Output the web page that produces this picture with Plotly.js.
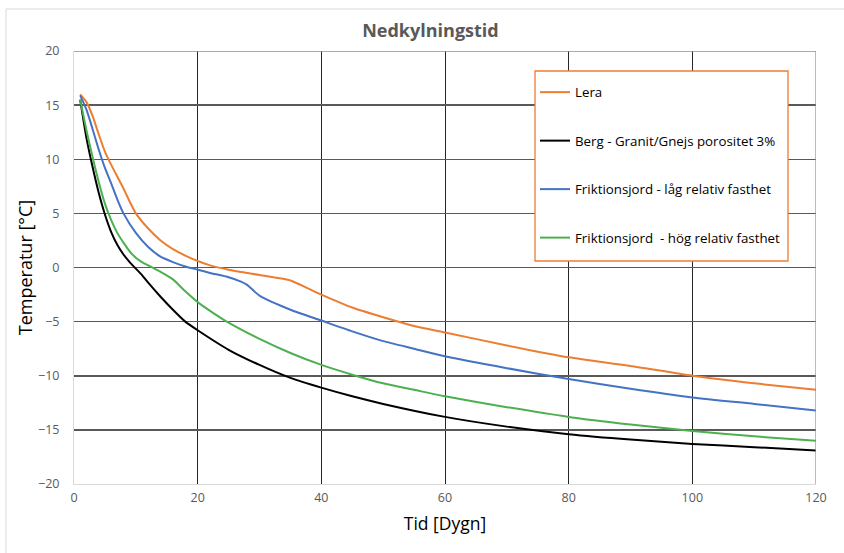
<!DOCTYPE html>
<html>
<head>
<meta charset="utf-8">
<script src="https://cdn.plot.ly/plotly-3.0.1.min.js"></script>
<style>html,body{margin:0;padding:0;background:#fff;}#chart{width:844px;height:553px;}</style>
</head>
<body>
<div id="chart"></div>
<script>
// Lera
const leraT = [1, 2, 3, 4, 5, 6, 7, 8, 9, 10, 12, 14, 16, 18, 20, 22, 25, 30, 35, 37, 40, 45, 50, 55, 60, 70, 80, 90, 100, 110, 120];
const leraV = [16.0, 15.3, 14.0, 12.3, 10.7, 9.5, 8.4, 7.3, 6.1, 5.0, 3.6, 2.5, 1.7, 1.1, 0.6, 0.2, -0.2, -0.7, -1.2, -1.7, -2.5, -3.7, -4.6, -5.4, -6.0, -7.2, -8.3, -9.1, -10.0, -10.7, -11.3];
// Berg - Granit/Gnejs porositet 3%
const bergT = [1, 2, 3, 4, 5, 6, 7, 8, 9, 10, 11, 12, 14, 16, 18, 20, 25, 30, 35, 40, 45, 50, 60, 70, 80, 90, 100, 110, 120];
const bergV = [15.5, 12.0, 9.3, 6.9, 4.9, 3.3, 2.1, 1.2, 0.5, -0.1, -0.7, -1.4, -2.7, -3.9, -5.0, -5.8, -7.6, -9.0, -10.2, -11.1, -11.9, -12.6, -13.8, -14.7, -15.4, -15.9, -16.3, -16.6, -16.9];
// Friktionsjord - låg relativ fasthet
const lagT = [1, 2, 3, 4, 5, 6, 7, 8, 10, 12, 14, 16, 18, 20, 22, 25, 27, 28, 30, 35, 40, 45, 50, 55, 60, 70, 80, 90, 100, 110, 120];
const lagV = [15.9, 14.6, 12.8, 10.9, 9.2, 7.8, 6.3, 5.0, 3.2, 1.9, 1.0, 0.5, 0.1, -0.2, -0.5, -0.9, -1.3, -1.6, -2.6, -3.9, -4.9, -5.9, -6.8, -7.5, -8.2, -9.3, -10.3, -11.2, -12.0, -12.6, -13.2];
// Friktionsjord - hög relativ fasthet
const hogT = [1, 2, 3, 4, 5, 6, 7, 8, 9, 10, 11, 12, 13, 14, 16, 18, 20, 22, 25, 30, 35, 40, 45, 50, 55, 60, 70, 80, 90, 100, 110, 120];
const hogV = [15.5, 12.7, 10.2, 7.9, 5.9, 4.4, 3.2, 2.3, 1.5, 0.9, 0.5, 0.2, -0.1, -0.4, -1.1, -2.2, -3.2, -4.0, -5.1, -6.6, -7.9, -9.0, -9.9, -10.7, -11.3, -11.9, -12.9, -13.8, -14.5, -15.1, -15.6, -16.0];

const names = ["Lera", "Berg - Granit/Gnejs porositet 3%", "Friktionsjord - låg relativ fasthet", "Friktionsjord  - hög relativ fasthet"];
const colors = ["#ED7D31", "#000000", "#4472C4", "#4CB050"];
const xs = [leraT, bergT, lagT, hogT];
const ys = [leraV, bergV, lagV, hogV];

const traces = xs.map((x, i) => ({
  x: x, y: ys[i], type: "scatter", mode: "lines", name: names[i],
  line: {color: colors[i], width: 2, shape: "spline", smoothing: 0.6},
  legendgroup: "g" + i
}));

const L = 74, R = 816, T = 51, B = 484;
const px = v => (v - L) / (R - L);
const py = v => (B - v) / (B - T);

const layout = {
  width: 844, height: 553,
  margin: {l: L, r: 844 - R, t: T, b: 553 - B},
  paper_bgcolor: "#ffffff", plot_bgcolor: "#ffffff",
  font: {family: "Open Sans, sans-serif", color: "#595959"},
  title: {text: "<b>Nedkylningstid</b>", font: {size: 18, color: "#595959", family: "Open Sans, sans-serif"}, x: 0.51, xanchor: "center", y: 0.944, yanchor: "middle"},
  xaxis: {
    range: [0, 120], dtick: 20, tick0: 0,
    showgrid: true, gridcolor: "#262626", gridwidth: 1,
    zeroline: false, showline: true, linecolor: "#d9d9d9", linewidth: 1,
    ticks: "", tickfont: {size: 12.5, color: "#595959"}, ticklabelstandoff: 2,
    title: {text: "Tid [Dygn]", font: {size: 17.5, color: "#000000"}, standoff: 12}
  },
  yaxis: {
    range: [-20, 20], dtick: 5, tick0: 0,
    showgrid: true, gridcolor: "#595959", gridwidth: 1.5,
    zeroline: false, showline: true, linecolor: "#d9d9d9", linewidth: 1,
    ticks: "", tickfont: {size: 12.5, color: "#595959"}, ticklabelstandoff: 11,
    title: {text: "Temperatur [°C]", font: {size: 18, color: "#000000"}, standoff: 0}
  },
  legend: {
    x: px(535), y: py(77), xanchor: "left", yanchor: "top",
    bgcolor: "rgba(0,0,0,0)", borderwidth: 0,
    font: {size: 13.3, color: "#000000"},
    traceorder: "grouped", tracegroupgap: 28.2,
    itemwidth: 30
  },
  shapes: [
    {type: "rect", xref: "paper", yref: "paper", x0: px(535), x1: px(788), y0: py(261), y1: py(71), fillcolor: "#ffffff", line: {color: "#ED7D31", width: 1.3}, layer: "above"},
    {type: "line", xref: "x", yref: "y", x0: 0, x1: 120, y0: 20, y1: 20, line: {color: "#5B9BD5", width: 1.5}},
    {type: "line", xref: "x", yref: "y", x0: 120, x1: 120, y0: -20, y1: 20, line: {color: "#5B9BD5", width: 1.2}},
    {type: "line", xref: "paper", yref: "paper", x0: px(6), x1: px(844), y0: py(9), y1: py(9), line: {color: "#d9d9d9", width: 1}},
    {type: "line", xref: "paper", yref: "paper", x0: px(6), x1: px(6), y0: py(9), y1: py(553), line: {color: "#d9d9d9", width: 1}}
  ]
};

Plotly.newPlot("chart", traces, layout, {displayModeBar: false, staticPlot: true});
</script>
</body>
</html>
